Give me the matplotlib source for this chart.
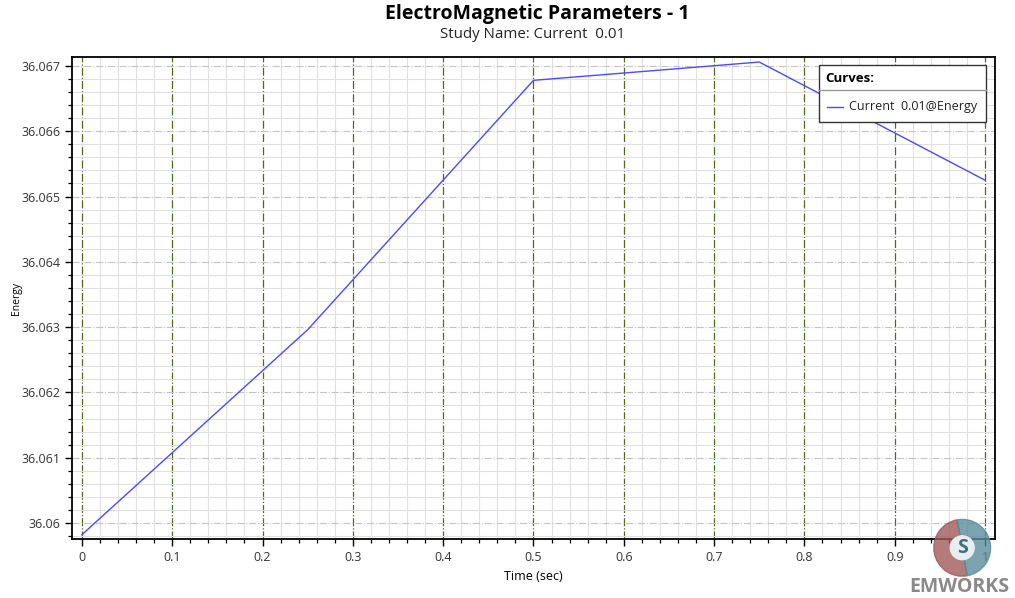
"""Energy vs time curve, EMWorks style chart."""

import matplotlib
matplotlib.use('Agg')
import matplotlib.pyplot as plt
import matplotlib.ticker as mticker
from matplotlib.patches import Wedge, Circle, Rectangle

plt.rcParams['font.family'] = ['Open Sans', 'DejaVu Sans']

time_sec = [0.0, 0.25, 0.5, 0.75, 1.0]
energy = [36.05982, 36.06296, 36.06678, 36.06706, 36.06525]
x_ticks = [0, 0.1, 0.2, 0.3, 0.4, 0.5, 0.6, 0.7, 0.8, 0.9, 1]
y_ticks = [36.06, 36.061, 36.062, 36.063, 36.064, 36.065, 36.066, 36.067]
curve_label = 'Current  0.01@Energy'
line_color = '#4a4aff'

fig = plt.figure(figsize=(10.15, 5.98), dpi=100)
ax = fig.add_axes([0.0709, 0.0982, 0.9094, 0.806])

ax.plot(time_sec, energy, color=line_color, lw=1.0, zorder=5)

ax.set_xlim(-0.011, 1.011)
ax.set_ylim(36.05975, 36.067133)
ax.set_xticks(x_ticks)
ax.set_yticks(y_ticks)
ax.xaxis.set_major_formatter(mticker.FuncFormatter(lambda v, _: f'{v:g}'))
ax.yaxis.set_major_formatter(mticker.FuncFormatter(lambda v, _: f'{round(v, 3):g}'))
ax.xaxis.set_minor_locator(mticker.MultipleLocator(0.02))
ax.yaxis.set_minor_locator(mticker.MultipleLocator(0.0002))

ax.grid(which='minor', color='#e0e0e0', lw=0.8, ls='-')
ax.grid(which='major', axis='x', color='#4b6b1e', lw=0.9, ls='-.')
ax.grid(which='major', axis='y', color='#c4c4c4', lw=0.8, ls='-.')
ax.set_axisbelow(True)

ax.tick_params(which='major', direction='out', length=5, width=1.0,
               labelsize=9, colors='black', labelcolor='#333333')
ax.tick_params(which='minor', direction='out', length=3, width=0.9)
for sp in ax.spines.values():
    sp.set_linewidth(1.3)
    sp.set_color('black')

ax.set_xlabel('Time (sec)', fontsize=9, labelpad=4)
ax.set_ylabel('Energy', fontsize=7.5)
ax.yaxis.set_label_coords(-0.054, 0.5)

fig.text(0.529, 0.976, 'ElectroMagnetic Parameters - 1', ha='center', va='center',
         fontsize=14, fontweight='bold')
fig.text(0.5246, 0.943, 'Study Name: Current  0.01', ha='center', va='center',
         fontsize=10.8, color='#222222')

# legend box drawn like the EMWorks "Curves:" panel
tr = ax.transAxes
ax.add_patch(Rectangle((0.809, 0.866), 0.181, 0.118, transform=tr, facecolor='white',
                       edgecolor='#333333', lw=1.0, zorder=10))
ax.plot([0.809, 0.990], [0.932, 0.932], transform=tr, color='#999999', lw=1.0, zorder=11)
ax.text(0.8165, 0.956, 'Curves:', transform=tr, fontsize=9.5, fontweight='bold',
        va='center', ha='left', zorder=11)
ax.plot([0.818, 0.835], [0.897, 0.897], transform=tr, color=line_color, lw=1.0, zorder=11)
ax.text(0.842, 0.897, curve_label, transform=tr, fontsize=9, va='center', ha='left',
        color='#222222', zorder=11)

# logo
lax = fig.add_axes([0.918, 0.034, 0.06, 0.1])
lax.set_xlim(-1, 1)
lax.set_ylim(-1, 1)
lax.set_aspect('equal')
lax.axis('off')
lax.add_patch(Wedge((0, 0), 0.95, 100, 280, width=0.55, color='#a05a58', alpha=0.8))
lax.add_patch(Wedge((0, 0), 0.95, -80, 100, width=0.55, color='#5a8c9c', alpha=0.8))
lax.add_patch(Circle((0, 0), 0.4, color='#e8eef0'))
lax.text(0, 0, 'S', ha='center', va='center', fontsize=14, fontweight='bold', color='#3f6f82')
fig.text(0.945, 0.018, 'EMWORKS', ha='center', va='center', fontsize=14,
         fontweight='bold', color='#8a8a8a')

fig.savefig('out.png', dpi=100)
